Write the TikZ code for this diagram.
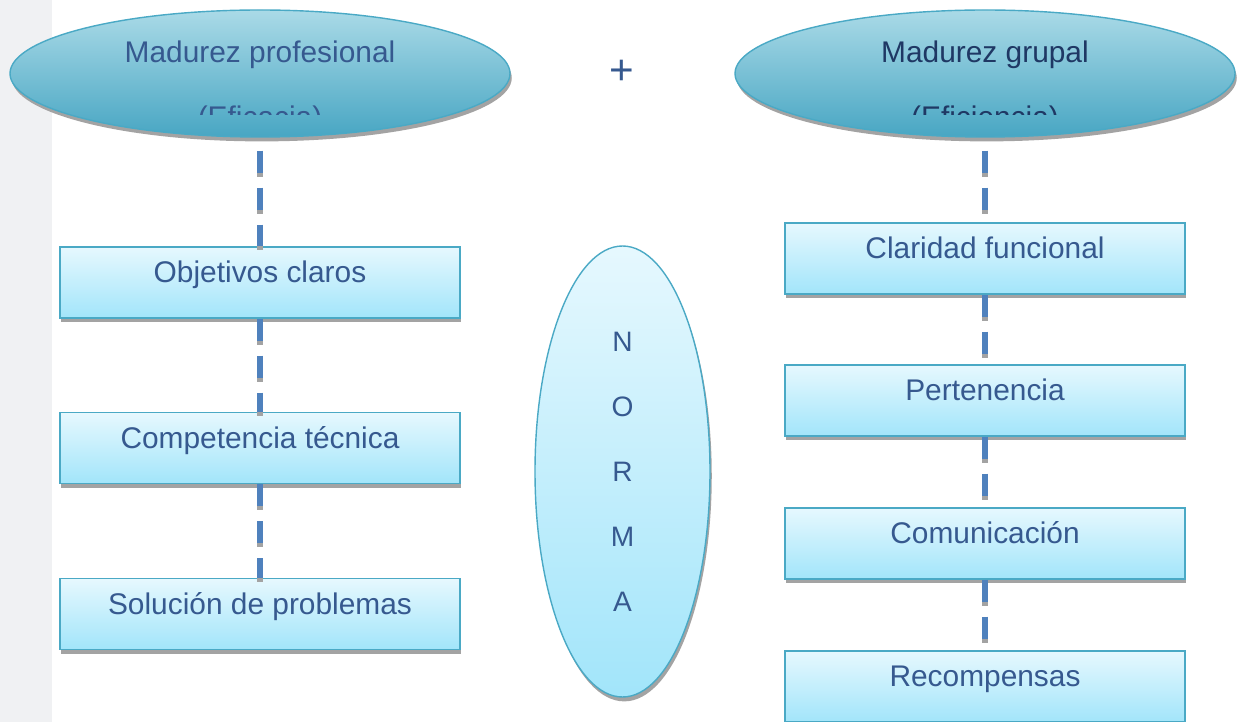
\documentclass[tikz,border=0pt]{standalone}
\usepackage{fontspec}
\setmainfont{Liberation Sans}
\usetikzlibrary{shapes.geometric,shadows}

\definecolor{textblue}{HTML}{36598F}
\definecolor{darkblue}{HTML}{1F3864}
\definecolor{edgeblue}{HTML}{4AA9C5}
\definecolor{ovaltop}{HTML}{AADAE7}
\definecolor{ovalbot}{HTML}{48A6C3}
\definecolor{boxtop}{HTML}{E6F8FE}
\definecolor{boxbot}{HTML}{A2E5FA}
\definecolor{dashblue}{HTML}{4F81BD}
\definecolor{shadowgray}{HTML}{A3A3A3}
\definecolor{stripgray}{HTML}{F0F1F3}

\begin{document}
\begin{tikzpicture}[x=1cm,y=1cm]

\tikzstyle{oval}=[ellipse, draw=edgeblue, thick, top color=ovaltop, bottom color=ovalbot, minimum width=10cm, minimum height=2.54cm, inner sep=0pt, font=\fontsize{17}{20}\selectfont, text=textblue, text height=0.5cm, text depth=0.94cm, drop shadow={shadow xshift=1pt, shadow yshift=-2.5pt, fill=shadowgray, opacity=1}]
\tikzstyle{box1}=[rectangle, draw=edgeblue, thick, top color=boxtop, bottom color=boxbot, minimum width=8cm, minimum height=1.42cm, font=\fontsize{17}{20}\selectfont, text=textblue, text height=0.45cm, text depth=0.45cm, drop shadow={shadow xshift=0.8pt, shadow yshift=-2.3pt, fill=shadowgray, opacity=1}]
\tikzstyle{norma}=[ellipse, draw=edgeblue, thick, top color=boxtop, bottom color=boxbot, minimum width=3.5cm, minimum height=9.02cm, inner sep=0pt, align=center, font=\fontsize{16}{37}\selectfont, text=textblue, drop shadow={shadow xshift=1pt, shadow yshift=-2.5pt, fill=shadowgray, opacity=1}]
\tikzstyle{link}=[draw=dashblue, line width=3pt, dash pattern=on 0.44cm off 0.3cm, preaction={draw=shadowgray, line width=3pt, dash pattern=on 0.44cm off 0.3cm, transform canvas={yshift=-2.3pt}}]

\useasboundingbox (0,0) rectangle (24.82,-14.44);
\fill [stripgray] (0,0) rectangle (1.04,-14.44);

\node (A) [oval] at (5.2,-1.47) {Madurez profesional};
\node (D) [oval, text=darkblue] at (19.7,-1.47) {Madurez grupal};

% second lines, cut off by the ovals
\begin{scope}
\clip (0,-2.0) rectangle (24.82,-2.3);
\node (A2) [anchor=base, font=\fontsize{17}{20}\selectfont, text=textblue] at (5.2,-2.56) {(Eficacia)};
\node (D2) [anchor=base, font=\fontsize{17}{20}\selectfont, text=darkblue] at (19.7,-2.56) {(Eficiencia)};
\end{scope}

\node (P) [font=\fontsize{24}{28}\selectfont, text=textblue] at (12.44,-1.45) {+};

\node (B1) [box1] at (5.2,-5.65) {Objetivos claros};
\node (B2) [box1] at (5.2,-8.96) {Competencia técnica};
\node (B3) [box1] at (5.2,-12.28) {Solución de problemas};

\node (C1) [box1] at (19.7,-5.17) {Claridad funcional};
\node (C2) [box1] at (19.7,-8.01) {Pertenencia};
\node (C3) [box1] at (19.7,-10.87) {Comunicación};
\node (C4) [box1] at (19.7,-13.73) {Recompensas};

\node (N) [norma] at (12.45,-9.43) {N\\O\\R\\M\\A};

\draw [link, shorten <=0.26cm] (A) -- (B1);
\draw [link] (B1) -- (B2);
\draw [link] (B2) -- (B3);
\draw [link, shorten <=0.26cm] (D) -- (C1);
\draw [link] (C1) -- (C2);
\draw [link] (C2) -- (C3);
\draw [link] (C3) -- (C4);

\end{tikzpicture}
\end{document}
